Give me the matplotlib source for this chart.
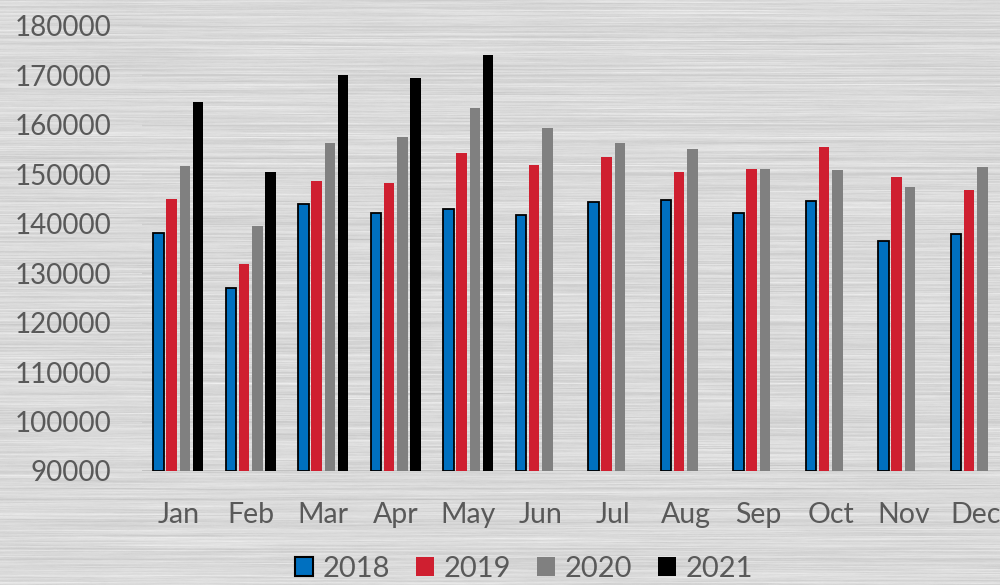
import numpy as np
import matplotlib
matplotlib.use("Agg")
import matplotlib.pyplot as plt
from matplotlib.patches import Patch

# Monthly totals per year
months = ["Jan", "Feb", "Mar", "Apr", "May", "Jun",
          "Jul", "Aug", "Sep", "Oct", "Nov", "Dec"]
v2018 = [138200, 127100, 144000, 142200, 143000, 141800,
         144500, 144900, 142100, 144700, 136500, 138000]
v2019 = [145100, 131800, 148600, 148300, 154400, 151900,
         153500, 150500, 151100, 155500, 149500, 146900]
v2020 = [151600, 139500, 156300, 157500, 163500, 159400,
         156300, 155200, 151100, 150900, 147500, 151500]
v2021 = [164600, 150500, 170000, 169400, 174200]
years = ["2018", "2019", "2020", "2021"]
ticks = list(range(90000, 180001, 10000))

colors = ["#0070C0", "#CF1F30", "#808080", "#000000"]
text_color = "#595959"
plt.rcParams["font.family"] = ["Lato", "DejaVu Sans"]

fig = plt.figure(figsize=(10, 5.85), dpi=100)

# brushed-metal backdrop: horizontally smeared grey noise
rng = np.random.default_rng(7)
H, W = 585, 1000
noise = rng.normal(0, 1, (H, W + 200))
k = 120
cs = np.cumsum(noise, axis=1)
streak = (cs[:, k:] - cs[:, :-k])[:, :W] / np.sqrt(k)
rows = rng.normal(0, 1, H)
rows = np.convolve(rows, np.ones(2) / 2, mode="same")
tex = 217 + 4.5 * streak + 4.5 * rows[:, None]
bright = rng.random(H) < 0.04
tex[bright] += 9
tex = np.clip(tex, 0, 255)
bg = fig.add_axes([0, 0, 1, 1], zorder=-10)
bg.imshow(tex, cmap="gray", vmin=0, vmax=255, aspect="auto",
          interpolation="bilinear")
bg.axis("off")

ax = fig.add_axes([0.142, 114 / 585, 0.870, 445 / 585])
ax.set_facecolor("none")

x = np.arange(len(months))
pitch = 0.183
width = 0.145
series = [v2018, v2019, v2020, v2021]
for i, (vals, c, lab) in enumerate(zip(series, colors, years)):
    xs = x[:len(vals)] + (i - 1.5) * pitch
    heights = np.array(vals) - 90000
    if i == 0:
        ax.bar(xs, heights, width, bottom=90000, color=c,
               edgecolor="black", linewidth=1.3, label=lab, zorder=3)
    else:
        ax.bar(xs, heights, width, bottom=90000, color=c,
               linewidth=0, label=lab, zorder=3)

ax.set_xlim(-0.5, 11.5)
ax.set_ylim(90000, 180000)
ax.set_yticks(ticks)
ax.set_yticklabels([str(t) for t in ticks])
ax.set_xticks(x)
ax.set_xticklabels(months)
ax.tick_params(axis="y", length=0, pad=22, labelsize=20,
               labelcolor=text_color)
ax.tick_params(axis="x", length=0, pad=22, labelsize=20.5,
               labelcolor=text_color)
for s in ax.spines.values():
    s.set_visible(False)
ax.grid(axis="y", color="#cdcdcd", linewidth=1.0, zorder=0)
ax.axhline(90000, color="#bdbdbd", linewidth=1.2, zorder=2)

handles = [Patch(facecolor=colors[0], edgecolor="black", linewidth=1.5),
           Patch(facecolor=colors[1], linewidth=0),
           Patch(facecolor=colors[2], linewidth=0),
           Patch(facecolor=colors[3], linewidth=0)]
fig.legend(handles, years, loc="center", bbox_to_anchor=(0.524, 1 - 569 / 585),
           ncol=4, frameon=False, fontsize=21, labelcolor=text_color,
           handlelength=0.62, handleheight=0.62, handletextpad=0.32,
           columnspacing=0.9, borderpad=0)

fig.savefig("out.png", dpi=100)
